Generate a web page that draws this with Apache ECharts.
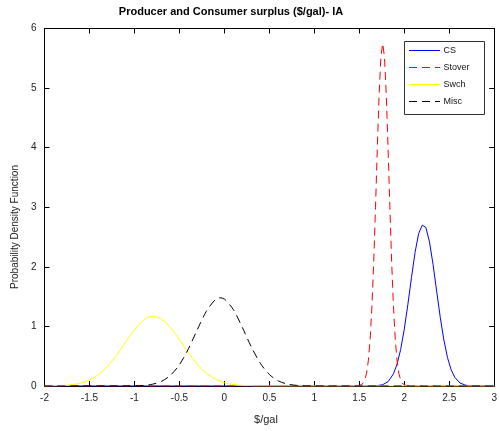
<!DOCTYPE html>
<html>
<head>
<meta charset="utf-8">
<script src="https://cdn.jsdelivr.net/npm/echarts@6/dist/echarts.min.js"></script>
<style>
  html, body { margin: 0; padding: 0; background: #fff; }
  #chart { width: 500px; height: 431px; }
</style>
</head>
<body>
<div id="chart"></div>
<script>
// Density curves of surplus estimates ($/gal), one x/y array pair per series
const csX = [-2, 1.64, 1.70, 1.76, 1.82, 1.88, 1.92, 1.96, 2.00, 2.04, 2.08, 2.12, 2.16, 2.20, 2.24, 2.28, 2.32, 2.36, 2.40, 2.44, 2.48, 2.52, 2.56, 2.62, 2.68, 2.74, 2.80, 2.86, 3];
const csY = [0, 0, 0.006, 0.022, 0.073, 0.204, 0.368, 0.615, 0.953, 1.368, 1.82, 2.243, 2.56, 2.70, 2.66, 2.42, 2.04, 1.593, 1.153, 0.773, 0.480, 0.277, 0.148, 0.050, 0.014, 0.003, 0.001, 0, 0];

const stoverX = [-2, 1.46, 1.50, 1.52, 1.54, 1.56, 1.58, 1.60, 1.62, 1.64, 1.66, 1.68, 1.70, 1.72, 1.74, 1.76, 1.78, 1.80, 1.82, 1.84, 1.86, 1.88, 1.90, 1.92, 1.94, 1.96, 1.98, 2.00, 2.02, 2.06, 3];
const stoverY = [0, 0, 0.006, 0.016, 0.041, 0.097, 0.211, 0.422, 0.778, 1.323, 2.07, 2.99, 3.98, 4.88, 5.52, 5.75, 5.52, 4.88, 3.98, 2.99, 2.07, 1.323, 0.778, 0.422, 0.211, 0.097, 0.041, 0.016, 0.006, 0, 0];

const swchX = [-2.0, -1.9, -1.8, -1.7, -1.6, -1.5, -1.4, -1.3, -1.2, -1.1, -1.0, -0.9, -0.8, -0.7, -0.6, -0.5, -0.4, -0.3, -0.2, -0.1, 0.0, 0.1, 0.2, 0.3, 0.4, 0.5, 3];
const swchY = [0.001, 0.003, 0.008, 0.021, 0.047, 0.100, 0.190, 0.329, 0.515, 0.732, 0.943, 1.103, 1.17, 1.125, 0.981, 0.776, 0.557, 0.362, 0.214, 0.114, 0.056, 0.024, 0.010, 0.004, 0.001, 0, 0];

const miscX = [-2, -1.1, -1.0, -0.9, -0.8, -0.7, -0.6, -0.5, -0.4, -0.3, -0.2, -0.1, -0.05, 0.0, 0.1, 0.2, 0.3, 0.4, 0.5, 0.6, 0.7, 0.8, 0.9, 1.0, 1.1, 3];
const miscY = [0, 0, 0.003, 0.010, 0.030, 0.078, 0.179, 0.358, 0.624, 0.948, 1.255, 1.450, 1.48, 1.460, 1.281, 0.981, 0.654, 0.381, 0.193, 0.085, 0.033, 0.011, 0.003, 0.001, 0, 0];

const seriesNames = ['CS', 'Stover', 'Swch', 'Misc'];
const seriesColors = ['#0000ff', '#ff0000', '#ffff00', '#000000'];
const seriesDashes = [null, [8, 5], null, [8, 5]];
const xTicks = { min: -2, max: 3, step: 0.5 };
const yTicks = { min: 0, max: 6, step: 1 };

const FONT = '"Liberation Sans", Arial, sans-serif';
const pairs = (xs, ys) => xs.map((x, i) => [x, ys[i]]);

const axisCommon = {
  type: 'value',
  axisLine: { show: true, onZero: false, lineStyle: { color: '#000', width: 1 } },
  axisTick: { show: true, inside: true, length: 5, lineStyle: { color: '#000', width: 1 } },
  splitLine: { show: false },
  axisLabel: { color: '#222', fontSize: 10, fontFamily: FONT }
};

const makeSeries = (i, xs, ys, smooth) => ({
  name: seriesNames[i], type: 'line', symbol: 'none', smooth: smooth,
  data: pairs(xs, ys),
  lineStyle: { color: seriesColors[i], width: 1, type: seriesDashes[i] || 'solid' },
  itemStyle: { color: seriesColors[i] }
});

// Boxed key in the upper right corner of the plot
const key = { left: 404.5, top: 41.5, width: 80, height: 73, row0: 50.5, rowStep: 17 };
const keyGraphics = [{
  type: 'rect', z: 100,
  shape: { x: key.left, y: key.top, width: key.width, height: key.height },
  style: { fill: '#fff', stroke: '#333', lineWidth: 1 }
}];
seriesNames.forEach((name, i) => {
  const y = key.row0 + i * key.rowStep;
  keyGraphics.push({
    type: 'line', z: 101,
    shape: { x1: key.left + 4.5, y1: y, x2: key.left + 35.5, y2: y },
    style: { stroke: seriesColors[i], lineWidth: 1, lineDash: seriesDashes[i] }
  });
  keyGraphics.push({
    type: 'text', z: 101, x: key.left + 39, y: y,
    style: { text: name, fill: '#111', font: '9px ' + FONT, textVerticalAlign: 'middle' }
  });
});

const chart = echarts.init(document.getElementById('chart'), null, { renderer: 'canvas' });
chart.setOption({
  animation: false,
  backgroundColor: '#fff',
  grid: { left: 44.5, right: 2, top: 28.5, bottom: 45, containLabel: false },
  xAxis: [
    Object.assign({}, axisCommon, {
      position: 'bottom', min: xTicks.min, max: xTicks.max, interval: xTicks.step,
      axisLabel: Object.assign({}, axisCommon.axisLabel, { margin: 7 })
    }),
    Object.assign({}, axisCommon, {
      position: 'top', min: xTicks.min, max: xTicks.max, interval: xTicks.step,
      axisLabel: { show: false }
    })
  ],
  yAxis: [
    Object.assign({}, axisCommon, {
      position: 'left', min: yTicks.min, max: yTicks.max, interval: yTicks.step,
      axisLabel: Object.assign({}, axisCommon.axisLabel, { margin: 8 })
    }),
    Object.assign({}, axisCommon, {
      position: 'right', min: yTicks.min, max: yTicks.max, interval: yTicks.step,
      axisLabel: { show: false }
    })
  ],
  graphic: [
    {
      type: 'text', x: 231, y: 12,
      style: {
        text: 'Producer and Consumer surplus ($/gal)- IA',
        fill: '#000', font: 'bold 11px ' + FONT,
        textAlign: 'center', textVerticalAlign: 'middle'
      }
    },
    {
      type: 'text', x: 266, y: 420,
      style: {
        text: '$/gal', fill: '#222', font: '11px ' + FONT,
        textAlign: 'center', textVerticalAlign: 'middle'
      }
    },
    {
      type: 'text', x: 15, y: 227, rotation: Math.PI / 2,
      style: {
        text: 'Probability Density Function', fill: '#222', font: '10px ' + FONT,
        textAlign: 'center', textVerticalAlign: 'middle'
      }
    }
  ].concat(keyGraphics),
  series: [
    makeSeries(0, csX, csY, false),
    makeSeries(1, stoverX, stoverY, false),
    makeSeries(2, swchX, swchY, 0.3),
    makeSeries(3, miscX, miscY, 0.3)
  ]
});
</script>
</body>
</html>
